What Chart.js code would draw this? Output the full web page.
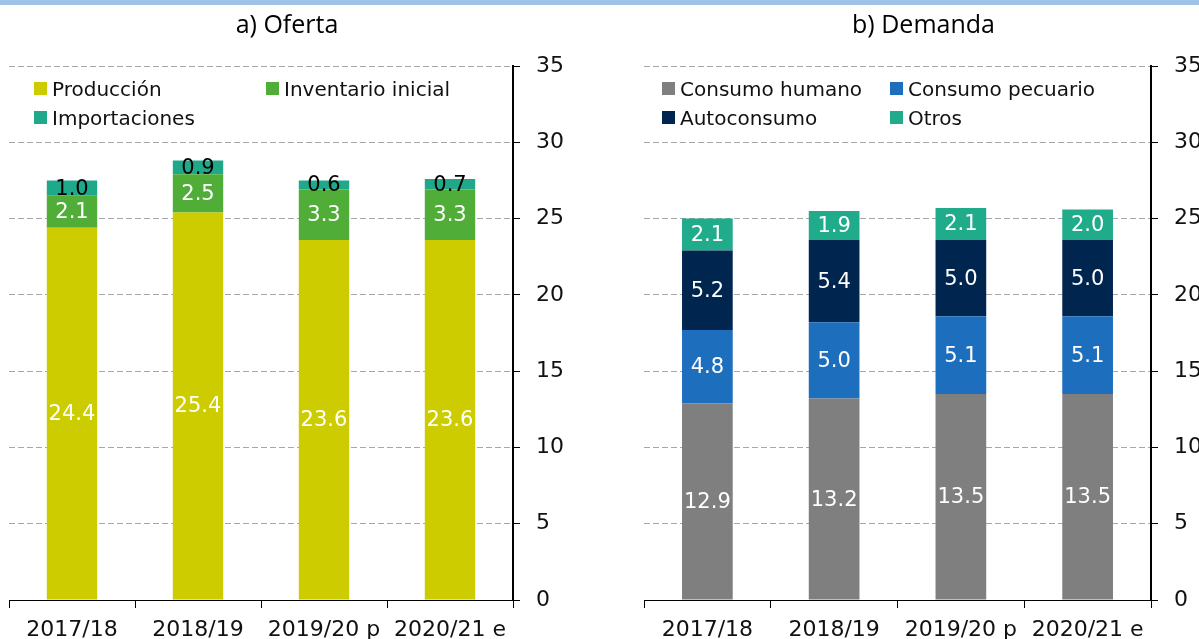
<!doctype html>
<html>
<head>
<meta charset="utf-8">
<title>Oferta y Demanda</title>
<script src="https://cdn.jsdelivr.net/npm/chart.js@4.4.0/dist/chart.umd.min.js"></script>
<style>
	body { margin: 0; width: 1199px; height: 639px; overflow: hidden; background: #fff; position: relative; font-family: "DejaVu Sans", sans-serif; }
	.band { position: absolute; left: 0; top: 0; width: 1199px; height: 5px; background: #9DC3E6; }
	.panel { position: absolute; top: 0; }
	#oferta { left: 0; }
	#demanda { left: 600px; }
	.legend { position: absolute; display: grid; grid-auto-rows: 29px; font-size: 20px; color: #111; }
	#legOferta { left: 34px; top: 74px; grid-template-columns: 232px auto; }
	#legDemanda { left: 662px; top: 74px; grid-template-columns: 228px auto; }
	.item { white-space: nowrap; display: flex; align-items: center; }
	.item i { display: inline-block; width: 13px; height: 13px; margin-right: 5px; }
</style>
</head>
<body>
	<div class="band"></div>
	<canvas id="oferta" class="panel" width="600" height="652"></canvas>
	<canvas id="demanda" class="panel" width="610" height="652"></canvas>
	<div id="legOferta" class="legend"></div>
	<div id="legDemanda" class="legend"></div>
<script>
	var years = ["2017/18", "2018/19", "2019/20 p", "2020/21 e"];

	// a) Oferta
	var produccion = [24.4, 25.4, 23.6, 23.6];
	var inventario = [2.1, 2.5, 3.3, 3.3];
	var importaciones = [1.0, 0.9, 0.6, 0.7];

	// b) Demanda
	var consumoHumano = [12.9, 13.2, 13.5, 13.5];
	var consumoPecuario = [4.8, 5.0, 5.1, 5.1];
	var autoconsumo = [5.2, 5.4, 5.0, 5.0];
	var otros = [2.1, 1.9, 2.1, 2.0];

	var yTicks = [0, 5, 10, 15, 20, 25, 30, 35];

	var tickFont = { family: "DejaVu Sans", size: 22, lineHeight: 1 };

	// etiquetas de valor dentro de cada segmento
	var valueLabels = {
		id: 'valueLabels',
		afterDatasetsDraw(chart) {
			var ctx = chart.ctx;
			ctx.save();
			ctx.font = '21px "DejaVu Sans"';
			ctx.textAlign = 'center';
			ctx.textBaseline = 'middle';
			chart.data.datasets.forEach(function (ds, i) {
				chart.getDatasetMeta(i).data.forEach(function (bar, j) {
					ctx.fillStyle = ds.labelColor;
					ctx.fillText(ds.data[j].toFixed(1), bar.x, (bar.y + bar.base) / 2 + 1);
				});
			});
			ctx.restore();
		}
	};

	function legend(id, datasets) {
		var el = document.getElementById(id);
		datasets.forEach(function (ds) {
			var item = document.createElement('div');
			item.className = 'item';
			item.innerHTML = '<i style="background:' + ds.backgroundColor + '"></i>' + ds.label;
			el.appendChild(item);
		});
	}

	function makeChart(id, title, datasets, pad) {
		return new Chart(id, {
			type: 'bar',
			data: { labels: years, datasets: datasets },
			plugins: [valueLabels],
			options: {
				responsive: false,
				animation: false,
				layout: { padding: pad },
				datasets: { bar: { barPercentage: 0.4, categoryPercentage: 1 } },
				plugins: {
					legend: { display: false },
					tooltip: { enabled: false },
					title: {
						display: true,
						text: title,
						color: '#000',
						font: { family: 'Open Sans', size: 25, weight: 'normal', lineHeight: 1.2 },
						padding: { top: 11, bottom: 25 }
					}
				},
				scales: {
					x: {
						stacked: true,
						grid: { drawOnChartArea: false, tickLength: 8, color: '#000', tickColor: '#000' },
						border: { color: '#000', width: 1 },
						ticks: { color: '#111', font: tickFont, padding: 11, maxRotation: 0, autoSkip: false }
					},
					y: {
						stacked: true,
						position: 'right',
						min: 0,
						max: 35,
						afterFit: function (s) { s.width = 52; },
						afterBuildTicks: function (s) { s.ticks = yTicks.map(function (v) { return { value: v }; }); },
						ticks: { color: '#111', font: tickFont, padding: 16 },
						grid: { color: '#A6A6A6', tickColor: '#000', tickLength: 7 },
						border: { color: '#000', width: 2, dash: [6, 3] }
					}
				}
			}
		});
	}

	var ofertaSets = [
		{ label: 'Producción', data: produccion, backgroundColor: '#CCCC00', labelColor: '#fff' },
		{ label: 'Inventario inicial', data: inventario, backgroundColor: '#50AD38', labelColor: '#fff' },
		{ label: 'Importaciones', data: importaciones, backgroundColor: '#1FA98A', labelColor: '#000' }
	];
	var demandaSets = [
		{ label: 'Consumo humano', data: consumoHumano, backgroundColor: '#7F7F7F', labelColor: '#fff' },
		{ label: 'Consumo pecuario', data: consumoPecuario, backgroundColor: '#1E6EBE', labelColor: '#fff' },
		{ label: 'Autoconsumo', data: autoconsumo, backgroundColor: '#00264F', labelColor: '#fff' },
		{ label: 'Otros', data: otros, backgroundColor: '#20AB8A', labelColor: '#fff' }
	];

	makeChart('oferta', 'a) Oferta', ofertaSets, { left: 9, right: 35, bottom: 0 });
	makeChart('demanda', 'b) Demanda', demandaSets, { left: 44, right: 7, bottom: 0 });

	legend('legOferta', ofertaSets);
	legend('legDemanda', demandaSets);
</script>
</body>
</html>
